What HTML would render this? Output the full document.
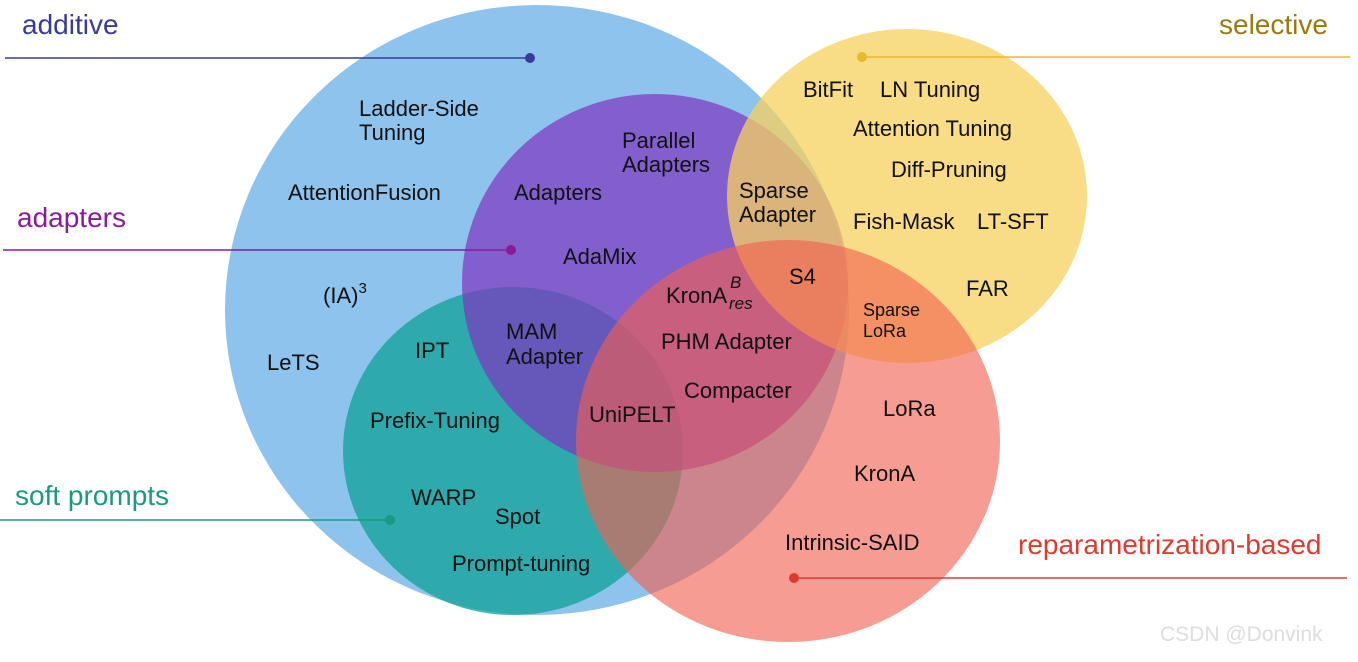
<!DOCTYPE html>
<html><head><style>
body{margin:0;background:#fff;}
svg text{font-family:"Liberation Sans",Arial,sans-serif;}
</style></head><body>
<svg width="1358" height="657" viewBox="0 0 1358 657" xmlns="http://www.w3.org/2000/svg">
<ellipse cx="537" cy="310" rx="312" ry="305" fill="#8ec3ee"/>
<ellipse cx="513" cy="451" rx="170" ry="164" fill="#17a49b" opacity="0.8"/>
<ellipse cx="655" cy="283" rx="193" ry="189" fill="#7f35c0" opacity="0.7"/>
<ellipse cx="907" cy="196" rx="180" ry="167" fill="#f7d05e" opacity="0.75"/>
<ellipse cx="788" cy="441" rx="212" ry="201" fill="#f2604f" opacity="0.62"/>
<g stroke-width="1.5">
<line x1="5" y1="58" x2="530" y2="58" stroke="#3a3a9a"/><circle cx="530" cy="58" r="5" fill="#3a3a9a"/>
<line x1="862" y1="57" x2="1350" y2="57" stroke="#e8b830"/><circle cx="862" cy="57" r="5" fill="#e8b830"/>
<line x1="3" y1="250" x2="511" y2="250" stroke="#8a1a9a"/><circle cx="511" cy="250" r="5" fill="#8a1a9a"/>
<line x1="0" y1="520" x2="390" y2="520" stroke="#1a9a80"/><circle cx="390" cy="520" r="5" fill="#1a9a80"/>
<line x1="794" y1="578" x2="1347" y2="578" stroke="#e03a30"/><circle cx="794" cy="578" r="5" fill="#e03a30"/>
</g>
<g font-size="28">
<text x="22" y="34" fill="#3a3a9a">additive</text>
<text x="1219" y="34" fill="#9a7a10">selective</text>
<text x="17" y="227" fill="#8a1a9a">adapters</text>
<text x="15" y="505" fill="#1a9a80">soft prompts</text>
<text x="1018" y="554" fill="#e03a30">reparametrization-based</text>
</g>
<g font-size="22" fill="#111">
<text x="359" y="116">Ladder-Side</text><text x="359" y="140">Tuning</text>
<text x="288" y="200">AttentionFusion</text>
<text x="323" y="303">(IA)<tspan font-size="15" dy="-10">3</tspan></text>
<text x="267" y="370">LeTS</text>
<text x="415" y="358">IPT</text>
<text x="370" y="428">Prefix-Tuning</text>
<text x="411" y="505">WARP</text>
<text x="495" y="524">Spot</text>
<text x="452" y="571">Prompt-tuning</text>
<text x="622" y="148">Parallel</text><text x="622" y="172">Adapters</text>
<text x="514" y="200">Adapters</text>
<text x="563" y="264">AdaMix</text>
<text x="506" y="339">MAM</text><text x="506" y="364">Adapter</text>
<text x="666" y="303">KronA</text><text x="730" y="288" font-size="17" font-style="italic">B</text><text x="729" y="309" font-size="17" font-style="italic">res</text>
<text x="661" y="349">PHM Adapter</text>
<text x="684" y="398">Compacter</text>
<text x="589" y="422">UniPELT</text>
<text x="739" y="198">Sparse</text><text x="739" y="222">Adapter</text>
<text x="789" y="284">S4</text>
<text x="803" y="97">BitFit</text>
<text x="880" y="97">LN Tuning</text>
<text x="853" y="136">Attention Tuning</text>
<text x="891" y="177">Diff-Pruning</text>
<text x="853" y="229">Fish-Mask</text>
<text x="977" y="229">LT-SFT</text>
<text x="966" y="296">FAR</text>
<text x="863" y="316" font-size="18">Sparse</text><text x="863" y="337" font-size="18">LoRa</text>
<text x="883" y="416">LoRa</text>
<text x="854" y="481">KronA</text>
<text x="785" y="550">Intrinsic-SAID</text>
</g>
<text x="1160" y="641" font-size="21" fill="#ddd">CSDN @Donvink</text>
</svg>
</body></html>
